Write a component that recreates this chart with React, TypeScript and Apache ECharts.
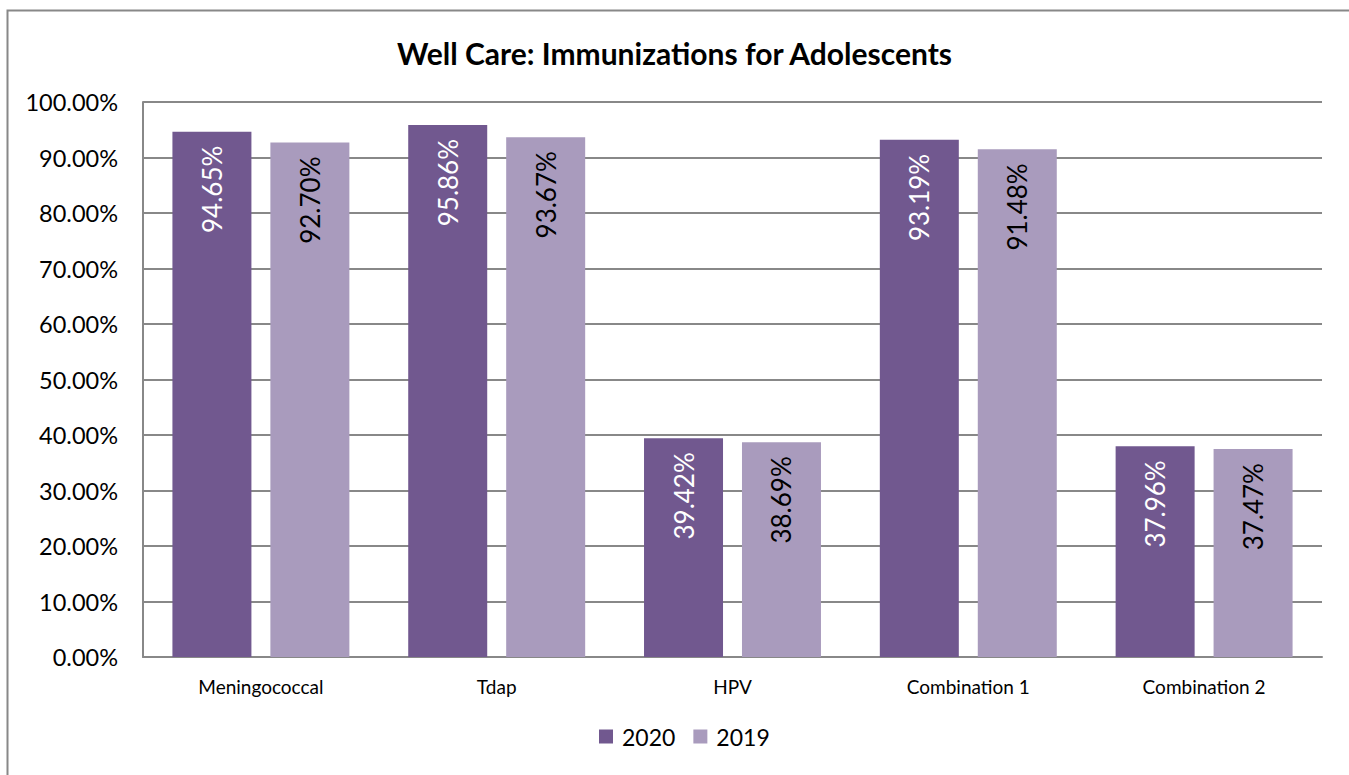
import React, { useEffect, useRef } from "react";
import * as echarts from "echarts";

const categories = ["Meningococcal", "Tdap", "HPV", "Combination 1", "Combination 2"];
const values2020 = [94.65, 95.86, 39.42, 93.19, 37.96];
const values2019 = [92.7, 93.67, 38.69, 91.48, 37.47];
const seriesNames = ["2020", "2019"];
const colors = ["#71588F", "#A99BBD"];

const FONT = "Lato, 'Open Sans', sans-serif";

export default function App() {
  const ref = useRef<HTMLDivElement>(null);
  useEffect(() => {
    if (!ref.current) return;
    const chart = echarts.init(ref.current, null, { renderer: "svg" });
    const labelCommon = {
      show: true,
      position: "insideTop",
      rotate: 90,
      align: "right",
      verticalAlign: "middle",
      distance: 14,
      fontFamily: FONT,
      fontSize: 26,
      formatter: (p: any) => p.value.toFixed(2) + "%",
    };
    chart.setOption({
      animation: false,
      backgroundColor: "#ffffff",
      title: {
        text: "Well Care: Immunizations for Adolescents",
        left: "center",
        top: 33,
        textStyle: { fontFamily: FONT, fontWeight: "bold", fontSize: 30, color: "#000" },
      },
      graphic: [
        {
          type: "rect",
          shape: { x: 7.5, y: 10.5, width: 1400, height: 800 },
          style: { fill: "none", stroke: "#888888", lineWidth: 2 },
          silent: true,
        },
      ],
      legend: {
        data: seriesNames,
        bottom: 22,
        left: 594,
        itemWidth: 14,
        itemHeight: 14,
        itemGap: 18,
        icon: "rect",
        textStyle: { fontFamily: FONT, fontSize: 23, color: "#000", padding: [0, 0, 0, 4] },
      },
      grid: { left: 143, right: 27, top: 102, bottom: 118, containLabel: false },
      xAxis: {
        type: "category",
        data: categories,
        axisLine: { lineStyle: { color: "#888888", width: 2 } },
        axisTick: { show: false },
        axisLabel: { fontFamily: FONT, fontSize: 19, color: "#000", margin: 20 },
      },
      yAxis: {
        type: "value",
        min: 0,
        max: 100,
        interval: 10,
        axisLine: { show: true, lineStyle: { color: "#888888", width: 2 } },
        axisTick: { show: false },
        splitLine: { lineStyle: { color: "#888888", width: 2 } },
        axisLabel: {
          fontFamily: FONT,
          fontSize: 23.5,
          color: "#000",
          margin: 25,
          formatter: (v: number) => v.toFixed(2) + "%",
        },
      },
      series: [
        {
          name: seriesNames[0],
          type: "bar",
          data: values2020,
          barWidth: 79,
          barGap: "24%",
          itemStyle: { color: colors[0] },
          label: { ...labelCommon, color: "#ffffff" },
        },
        {
          name: seriesNames[1],
          type: "bar",
          data: values2019,
          barWidth: 79,
          itemStyle: { color: colors[1] },
          label: { ...labelCommon, color: "#000000" },
        },
      ],
    });
    return () => chart.dispose();
  }, []);
  return (
    <div
      ref={ref}
      style={{ position: "fixed", left: 0, top: 0, width: 1349, height: 775 }}
    />
  );
}
